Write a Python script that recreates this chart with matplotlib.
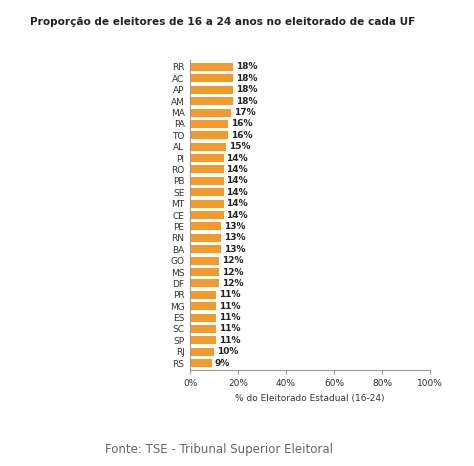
import matplotlib
matplotlib.use("Agg")
import matplotlib.pyplot as plt

ufs = ["RR", "AC", "AP", "AM", "MA", "PA", "TO", "AL", "PI", "RO", "PB", "SE", "MT", "CE",
       "PE", "RN", "BA", "GO", "MS", "DF", "PR", "MG", "ES", "SC", "SP", "RJ", "RS"]
shares = [18, 18, 18, 18, 17, 16, 16, 15, 14, 14, 14, 14, 14, 14,
          13, 13, 13, 12, 12, 12, 11, 11, 11, 11, 11, 10, 9]

fig = plt.figure(figsize=(4.74, 4.66), dpi=100)
ax = fig.add_axes([0.401, 0.206, 0.506, 0.665])

pos = list(range(len(ufs)))[::-1]
ax.barh(pos, shares, height=0.7, color="#F39A2E")
for y, v in zip(pos, shares):
    ax.text(v + 1.2, y, f"{v}%", va="center", ha="left", fontsize=6.5, fontweight="bold", color="#222222")

ax.set_yticks(pos)
ax.set_yticklabels(ufs, fontsize=6.5, color="#333333")
ax.set_ylim(-0.6, len(ufs) - 0.4)
ax.set_xlim(0, 100)
ax.set_xticks([0, 20, 40, 60, 80, 100])
ax.set_xticklabels([f"{t}%" for t in [0, 20, 40, 60, 80, 100]], fontsize=6.5, color="#333333")
ax.set_xlabel("% do Eleitorado Estadual (16-24)", fontsize=6.5, color="#333333")
ax.tick_params(axis="y", length=0, pad=4)
ax.tick_params(axis="x", length=3, color="#999999")
for side in ["top", "right"]:
    ax.spines[side].set_visible(False)
for side in ["left", "bottom"]:
    ax.spines[side].set_color("#999999")
    ax.spines[side].set_linewidth(0.8)

fig.text(0.063, 0.953, "Proporção de eleitores de 16 a 24 anos no eleitorado de cada UF",
         fontsize=7.6, fontweight="bold", color="#222222", va="center")
fig.text(0.222, 0.035, "Fonte: TSE - Tribunal Superior Eleitoral",
         fontsize=8.5, color="#666666", va="center")

fig.savefig("out.png", dpi=100)
